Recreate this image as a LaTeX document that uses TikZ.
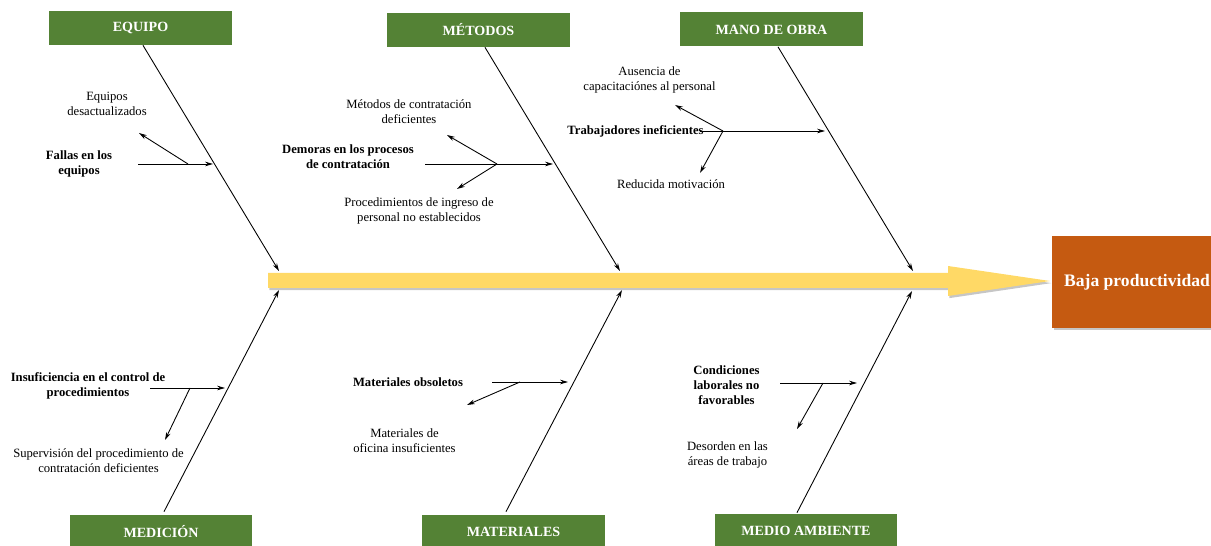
\documentclass[tikz,border=0pt]{standalone}
\usepackage{fontspec}
\setmainfont{Liberation Serif}
\usetikzlibrary{arrows.meta,shadows}
\definecolor{verde}{HTML}{548235}
\definecolor{naranja}{HTML}{C55A11}
\definecolor{amarillo}{HTML}{FFD966}
\tikzset{
	categoria/.style={fill=verde,text=white,font=\fontsize{8}{9.5}\selectfont\bfseries,minimum width=3.66cm,minimum height=0.68cm,inner sep=0pt},
	efecto/.style={fill=naranja,text=white,font=\fontsize{10}{12}\selectfont\bfseries,minimum width=3.4cm,minimum height=1.84cm,inner sep=0pt,drop shadow={shadow xshift=1.2pt,shadow yshift=-1.2pt,opacity=0.45}},
	causa/.style={align=center,font=\fontsize{7.2}{8.5}\selectfont\bfseries,inner sep=0pt},
	subcausa/.style={align=center,font=\fontsize{7.2}{8.5}\selectfont,inner sep=0pt},
	hueso/.style={line width=0.5pt,-{Stealth[length=4.5pt,width=2.6pt]}}
}
\begin{document}
\begin{tikzpicture}[x=0.02cm,y=-0.02cm]
	\useasboundingbox (0,0) rectangle (1211,546);
	\fill[amarillo,drop shadow={shadow xshift=0.8pt,shadow yshift=-1.2pt,opacity=0.45}] (268,273) -- (948,273) -- (948,266) -- (1050,281) -- (948,296) -- (948,288) -- (268,288) -- cycle;
	\node[efecto] (efecto) at (1137,282) {Baja productividad};
	\node[categoria] (equipo) at (140.5,28) {EQUIPO};
	\node[categoria] (metodos) at (478.5,30) {MÉTODOS};
	\node[categoria] (manoobra) at (771.5,29.5) {MANO DE OBRA};
	\node[categoria] (medicion) at (161,532) {MEDICIÓN};
	\node[categoria] (materiales) at (513.5,532) {MATERIALES};
	\node[categoria] (medioamb) at (806,531) {MEDIO AMBIENTE};
	\coordinate (eq) at (279,271);
	\coordinate (me) at (620,271);
	\coordinate (mo) at (913,271);
	\coordinate (md) at (279,290);
	\coordinate (ma) at (622,290);
	\coordinate (ab) at (912,291);
	\draw[hueso] ([xshift=0.05cm]equipo.south) -- (eq);
	\draw[hueso] ([xshift=0.13cm]metodos.south) -- (me);
	\draw[hueso] ([xshift=0.13cm]manoobra.south) -- (mo);
	\draw[hueso] ([xshift=0.06cm,yshift=0.06cm]medicion.north) -- (md);
	\draw[hueso] ([xshift=-0.15cm,yshift=0.06cm]materiales.north) -- (ma);
	\draw[hueso] ([xshift=-0.18cm,yshift=0.02cm]medioamb.north) -- (ab);
	\node[causa] (fallas) at (79,164) {Fallas en los\\equipos};
	\node[subcausa] (desact) at (107,104) {Equipos\\desactualizados};
	\coordinate (fallas-a) at (138,164);
	\coordinate (fallas-b) at (188,164);
	\coordinate (fallas-c) at (213,164);
	\coordinate (desact-a) at (139,133);
	\draw[hueso] (fallas-a) -- (fallas-c);
	\draw[hueso] (fallas-b) -- (desact-a);
	\node[causa] (demoras) at (348,157) {Demoras en los procesos\\de contratación};
	\node[subcausa] (contrat) at (409,112) {Métodos de contratación\\deficientes};
	\node[subcausa] (ingreso) at (419,211) {Procedimientos de ingreso de\\personal no establecidos};
	\coordinate (demoras-a) at (425,164);
	\coordinate (demoras-b) at (497,164);
	\coordinate (demoras-c) at (553,164);
	\coordinate (contrat-a) at (447,135);
	\coordinate (ingreso-a) at (457,189);
	\draw[hueso] (demoras-a) -- (demoras-c);
	\draw[hueso] (demoras-b) -- (contrat-a);
	\draw[hueso] (demoras-b) -- (ingreso-a);
	\node[causa] (trabaj) at (635.5,131) {Trabajadores ineficientes};
	\node[subcausa] (capac) at (649.5,80) {Ausencia de\\capacitaciónes al personal};
	\node[subcausa] (motiv) at (671,184) {Reducida motivación};
	\coordinate (trabaj-a) at (700,131);
	\coordinate (trabaj-b) at (723,131);
	\coordinate (trabaj-c) at (825,131);
	\coordinate (capac-a) at (675,105);
	\coordinate (motiv-a) at (700,173);
	\draw[hueso] (trabaj-a) -- (trabaj-c);
	\draw[hueso] (trabaj-b) -- (capac-a);
	\draw[hueso] (trabaj-b) -- (motiv-a);
	\node[causa] (insuf) at (88,385.5) {Insuficiencia en el control de\\procedimientos};
	\node[subcausa] (superv) at (98.5,461) {Supervisión del procedimiento de\\contratación deficientes};
	\coordinate (insuf-a) at (150,388);
	\coordinate (insuf-b) at (190,388);
	\coordinate (insuf-c) at (225,388);
	\coordinate (superv-a) at (165,440);
	\draw[hueso] (insuf-a) -- (insuf-c);
	\draw[hueso] (insuf-b) -- (superv-a);
	\node[causa] (obsol) at (408,382) {Materiales obsoletos};
	\node[subcausa] (oficina) at (404.5,441) {Materiales de\\oficina insuficientes};
	\coordinate (obsol-a) at (492,382);
	\coordinate (obsol-b) at (520,382);
	\coordinate (obsol-c) at (568,382);
	\coordinate (oficina-a) at (467,405);
	\draw[hueso] (obsol-a) -- (obsol-c);
	\draw[hueso] (obsol-b) -- (oficina-a);
	\node[causa] (condic) at (726.5,385) {Condiciones\\laborales no\\favorables};
	\node[subcausa] (desorden) at (727.5,454.5) {Desorden en las\\áreas de trabajo};
	\coordinate (condic-a) at (780,383);
	\coordinate (condic-b) at (823,383);
	\coordinate (condic-c) at (857,383);
	\coordinate (desorden-a) at (797,429);
	\draw[hueso] (condic-a) -- (condic-c);
	\draw[hueso] (condic-b) -- (desorden-a);
\end{tikzpicture}
\end{document}
